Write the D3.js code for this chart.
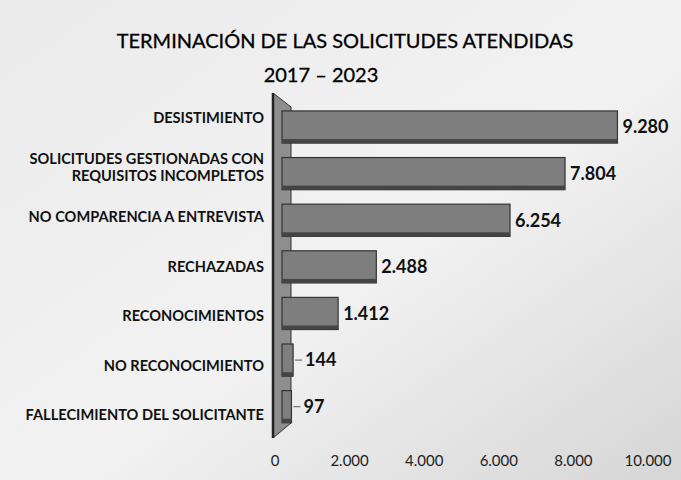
<!DOCTYPE html>
<html>
<head>
<meta charset="utf-8">
<script src="https://cdn.jsdelivr.net/npm/d3@7"></script>
<style>
  body { margin: 0; background: #efefef; }
  svg { display: block; }
</style>
</head>
<body>
<svg id="chart" width="681" height="480"></svg>
<script>
// Chart data
const titleLines = ["TERMINACIÓN DE LAS SOLICITUDES ATENDIDAS", "2017 – 2023"];
const categories = [
  ["DESISTIMIENTO"],
  ["SOLICITUDES GESTIONADAS CON", "REQUISITOS INCOMPLETOS"],
  ["NO COMPARENCIA A ENTREVISTA"],
  ["RECHAZADAS"],
  ["RECONOCIMIENTOS"],
  ["NO RECONOCIMIENTO"],
  ["FALLECIMIENTO DEL SOLICITANTE"]
];
const values = [9280, 7804, 6254, 2488, 1412, 144, 97];
const ticks = [0, 2000, 4000, 6000, 8000, 10000];

const svg = d3.select("#chart");
const W = 681, H = 480;

// Spanish number format: 9.280
const es = d3.formatLocale({ decimal: ",", thousands: ".", grouping: [3], currency: ["", ""] });
const fmt = es.format(",d");

// background, a bit darker toward the right like the scan
const defs = svg.append("defs");
const bg = defs.append("linearGradient").attr("id", "bg").attr("x1", 0).attr("x2", 1).attr("y1", 0).attr("y2", 1);
bg.append("stop").attr("offset", "0%").attr("stop-color", "#ebebeb");
bg.append("stop").attr("offset", "55%").attr("stop-color", "#f2f2f2");
bg.append("stop").attr("offset", "100%").attr("stop-color", "#d6d6d6");
svg.append("rect").attr("width", W).attr("height", H).attr("fill", "url(#bg)");

// scales: bars sit on the front plane, axis labels on the floor edge
const xBar = d3.scaleLinear().domain([0, 10000]).range([288, 643]);
const xAxis = d3.scaleLinear().domain([0, 10000]).range([275, 648]);
const idx = d3.range(categories.length);
const yBar = d3.scaleBand().domain(idx).range([103.7, 430]).paddingInner(0.31).paddingOuter(0.155);
const yLab = d3.scaleBand().domain(idx).range([93.3, 439.8]);

// title
svg.append("g").selectAll("text")
  .data(titleLines)
  .join("text")
  .attr("x", (d, i) => i ? 321 : 345)
  .attr("y", (d, i) => 48 + i * 34)
  .attr("text-anchor", "middle")
  .attr("font-family", "Lato, sans-serif")
  .attr("font-size", 20)
  .attr("stroke", "#000")
  .attr("stroke-width", 0.3)
  .attr("fill", "#000")
  .text(d => d);

// left wall
const wallL = xAxis(0) - 2, wallR = xBar(0) + 3;
svg.append("path")
  .attr("d", `M${wallL},93 L${wallR},107 L${wallR},423 L${wallL},438 Z`)
  .attr("fill", "#8e8e8e")
  .attr("stroke", "#333")
  .attr("stroke-width", 1);
svg.append("line")
  .attr("x1", wallL).attr("x2", wallL).attr("y1", 93).attr("y2", 438)
  .attr("stroke", "#222").attr("stroke-width", 2.5);

// bars
const bars = svg.append("g").selectAll("g")
  .data(values)
  .join("g");

bars.append("rect")
  .attr("x", xBar(0) - 6)
  .attr("y", (d, i) => yBar(i))
  .attr("width", d => xBar(d) - xBar(0) + 6)
  .attr("height", yBar.bandwidth())
  .attr("fill", "#7e7e7e")
  .attr("stroke", "#333")
  .attr("stroke-width", 1.2);

// darker underside band for the 3D look
bars.append("rect")
  .attr("x", xBar(0) - 6)
  .attr("y", (d, i) => yBar(i) + yBar.bandwidth() - 4)
  .attr("width", d => xBar(d) - xBar(0) + 6)
  .attr("height", 4)
  .attr("fill", "#444");

// value labels, with a short leader for the tiny bars
const small = d => xBar(d) - xBar(0) < 20;
bars.filter(small).append("line")
  .attr("x1", d => xBar(d) + 2)
  .attr("x2", d => xBar(d) + 9)
  .attr("y1", d => yBar(values.indexOf(d)) + yBar.bandwidth() / 2)
  .attr("y2", d => yBar(values.indexOf(d)) + yBar.bandwidth() / 2)
  .attr("stroke", "#555");

bars.append("text")
  .attr("x", d => xBar(d) + (small(d) ? 12 : 5))
  .attr("y", (d, i) => yBar(i) + yBar.bandwidth() / 2)
  .attr("dy", "0.35em")
  .attr("font-family", "Lato, sans-serif")
  .attr("font-weight", 700)
  .attr("font-size", 18)
  .attr("fill", "#111")
  .text(d => fmt(d));

// category labels
const cat = svg.append("g").selectAll("text")
  .data(categories)
  .join("text")
  .attr("text-anchor", "end")
  .attr("font-family", "Lato, sans-serif")
  .attr("font-weight", 700)
  .attr("font-size", 14.6)
  .attr("fill", "#111");

cat.selectAll("tspan")
  .data((d, i) => d.map((t, j) => ({ t, j, n: d.length, i })))
  .join("tspan")
  .attr("x", 264)
  .attr("y", d => yLab(d.i) + yLab.bandwidth() / 2 + (d.j - (d.n - 1) / 2) * 17)
  .attr("dy", "0.35em")
  .text(d => d.t);

// x axis labels
svg.append("g").selectAll("text")
  .data(ticks)
  .join("text")
  .attr("x", d => xAxis(d))
  .attr("y", 461)
  .attr("dy", "0.35em")
  .attr("text-anchor", "middle")
  .attr("font-family", "Lato, sans-serif")
  .attr("font-size", 15)
  .attr("fill", "#222")
  .text(d => fmt(d));
</script>
</body>
</html>
